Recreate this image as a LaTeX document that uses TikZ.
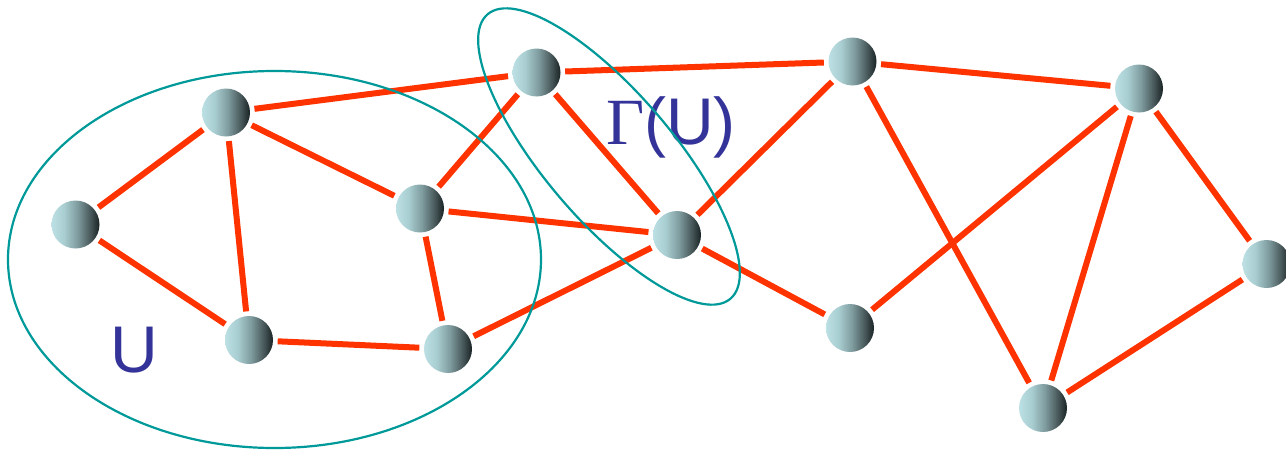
\documentclass[tikz,border=0pt]{standalone}
\usepackage{fontspec}
\setmainfont{Liberation Sans}
\newfontfamily\serifgamma{Liberation Serif}
\definecolor{edgered}{HTML}{FF3300}
\definecolor{setteal}{HTML}{009999}
\definecolor{labelblue}{HTML}{333399}
\definecolor{ballA}{HTML}{BCE0E3}
\definecolor{ballB}{HTML}{A9CED1}
\definecolor{ballC}{HTML}{7F9C9F}
\definecolor{ballD}{HTML}{4A5A5C}
\definecolor{ballE}{HTML}{182224}
\pgfdeclarehorizontalshading{ballshade}{100bp}{color(0bp)=(ballA); color(25bp)=(ballA); color(38bp)=(ballB); color(52bp)=(ballC); color(65bp)=(ballD); color(75bp)=(ballE); color(100bp)=(ballE)}
\tikzset{
  vtx/.style={circle, minimum size=48pt, inner sep=0pt},
  edge/.style={draw=edgered, line width=6pt, shorten <=4.5pt, shorten >=4.5pt},
  setline/.style={draw=setteal, line width=2.2pt},
  lbl/.style={text=labelblue, font=\fontsize{66}{70}\selectfont, inner sep=0pt, anchor=base}
}
\begin{document}
\begin{tikzpicture}[x=1pt,y=1pt]
\useasboundingbox (0,0) rectangle (1286,-450);
% node positions
\coordinate (pA) at (75.5,-224.5);
\coordinate (pB) at (226,-112.5);
\coordinate (pC) at (249,-340);
\coordinate (pD) at (420,-208.5);
\coordinate (pE) at (448,-349);
\coordinate (pF) at (536.5,-72.5);
\coordinate (pG) at (677,-235);
\coordinate (pH) at (852.5,-61.5);
\coordinate (pI) at (850,-328);
\coordinate (pJ) at (1139,-88.5);
\coordinate (pK) at (1266.5,-264);
\coordinate (pL) at (1043,-408);
\foreach \n in {A,B,C,D,E,F,G,H,I,J,K,L}{
  \node[vtx] (\n) at (p\n) {};
}
% edges
\foreach \a/\b in {A/B,A/C,B/C,B/D,B/F,C/E,D/E,D/F,D/G,E/G,F/G,F/H,H/J,G/H,G/I,H/L,I/J,J/L,J/K,K/L}{
  \draw[edge] (\a) -- (\b);
}
% labels
\node[lbl] (labU) at (134,-372) {U};
\node[lbl] (labGU) at (671,-144) {{\serifgamma Γ}(U)};
% sets
\draw[setline] (274.5,-259.5) ellipse [x radius=266.5, y radius=188.5];
\draw[setline, rotate around={-49.5:(609,-156.5)}] (609,-156.5) ellipse [x radius=187, y radius=64];
% vertices
\foreach \n in {A,B,C,D,E,F,G,H,I,J,K,L}{
  \shade[shading=ballshade] (p\n) circle [radius=24pt];
}
\end{tikzpicture}
\end{document}
